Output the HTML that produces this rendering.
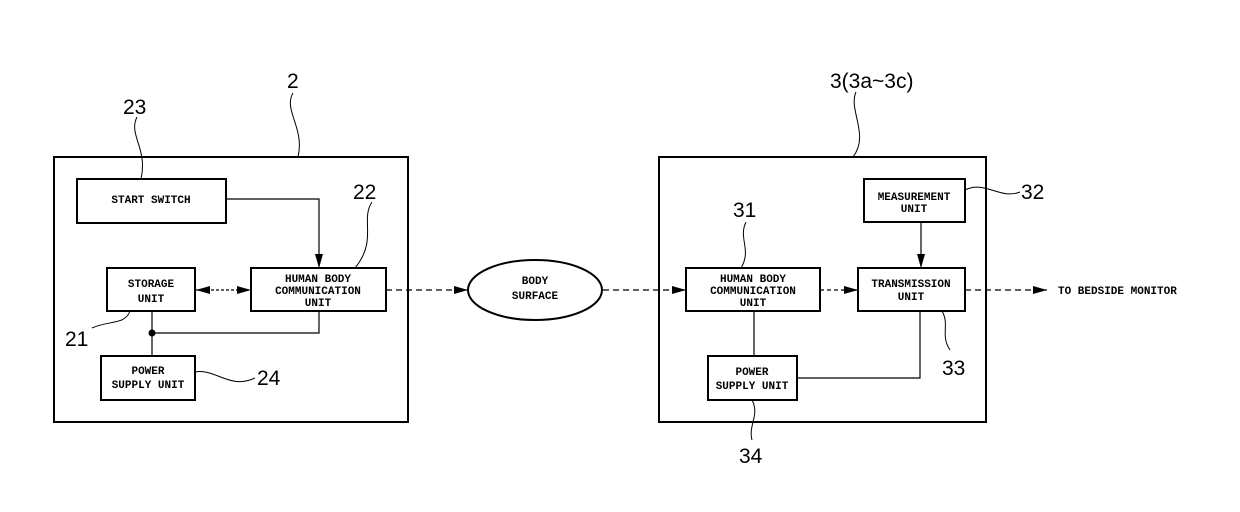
<!DOCTYPE html>
<html><head><meta charset="utf-8"><style>
html,body{margin:0;padding:0;background:#fff}
svg{display:block}
.n{font-family:"Liberation Sans",sans-serif;font-size:21px;fill:#000}
.b{font-family:"Liberation Mono",monospace;font-size:11px;font-weight:bold;fill:#000;text-anchor:middle}
</style></head><body>
<svg width="1240" height="512" viewBox="0 0 1240 512" xmlns="http://www.w3.org/2000/svg">
<defs><marker id="a" markerWidth="14" markerHeight="8" refX="14" refY="4" orient="auto" markerUnits="userSpaceOnUse"><path d="M0,0 L14,4 L0,8 z" fill="#000"/></marker>
<marker id="s" markerWidth="14" markerHeight="8" refX="0" refY="4" orient="auto" markerUnits="userSpaceOnUse"><path d="M14,0 L0,4 L14,8 z" fill="#000"/></marker></defs>
<g fill="none" stroke="#000">
<rect x="54" y="157" width="354" height="265" stroke-width="2"/>
<rect x="77" y="179" width="149" height="44" stroke-width="2"/>
<rect x="107" y="268" width="88" height="43" stroke-width="2"/>
<rect x="251" y="268" width="135" height="43" stroke-width="2"/>
<rect x="101" y="356" width="94" height="44" stroke-width="2"/>
<path d="M226,199 H319 V268" stroke-width="1.2" marker-end="url(#a)"/>
<path d="M196,290 H251" stroke-width="1.2" stroke-dasharray="3,2" marker-start="url(#s)" marker-end="url(#a)"/>
<path d="M152,311 V356 M152,333 H319 V311" stroke-width="1.2"/>
<rect x="659" y="157" width="327" height="265" stroke-width="2"/>
<rect x="864" y="179" width="101" height="43" stroke-width="2"/>
<rect x="686" y="268" width="134" height="43" stroke-width="2"/>
<rect x="858" y="268" width="107" height="43" stroke-width="2"/>
<rect x="708" y="356" width="89" height="44" stroke-width="2"/>
<path d="M921,222 V268" stroke-width="1.2" marker-end="url(#a)"/>
<path d="M820,290 H858" stroke-width="1.2" stroke-dasharray="4,3" marker-end="url(#a)"/>
<path d="M754,311 V356 M920,311 V378 H797" stroke-width="1.2"/>
<ellipse cx="535" cy="290" rx="67" ry="30" stroke-width="2"/>
<path d="M386,290 H468" stroke-width="1.2" stroke-dasharray="6,4" marker-end="url(#a)"/>
<path d="M603,290 H686" stroke-width="1.2" stroke-dasharray="6,4" marker-end="url(#a)"/>
<path d="M965,290 H1047" stroke-width="1.2" stroke-dasharray="6,4" marker-end="url(#a)"/>
<g stroke-width="1">
<path d="M137,117 C128,135 148,148 141,179"/>
<path d="M293,93 C283,110 305,128 298,157"/>
<path d="M372,202 C360,220 378,240 355,268"/>
<path d="M130,311 C125,325 110,320 92,328"/>
<path d="M195,372 C215,368 230,390 255,378"/>
<path d="M856,92 C848,110 870,135 853,157"/>
<path d="M746,222 C738,238 752,250 741,268"/>
<path d="M965,190 C985,180 1000,200 1020,192"/>
<path d="M942,311 C950,325 940,335 950,350"/>
<path d="M752,400 C760,415 748,425 752,440"/>
</g>
</g>
<circle cx="152" cy="333" r="3.5" fill="#000"/>
<g class="n">
<text x="123" y="114">23</text>
<text x="287" y="88">2</text>
<text x="353" y="199">22</text>
<text x="65" y="346">21</text>
<text x="257" y="385">24</text>
<text x="830" y="88">3(3a~3c)</text>
<text x="733" y="217">31</text>
<text x="1021" y="199">32</text>
<text x="942" y="375">33</text>
<text x="739" y="463">34</text>
</g>
<g class="b">
<text x="151" y="203">START SWITCH</text>
<text x="151" y="287">STORAGE</text>
<text x="151" y="302">UNIT</text>
<text x="318" y="282">HUMAN BODY</text>
<text x="318" y="294">COMMUNICATION</text>
<text x="318" y="306">UNIT</text>
<text x="148" y="374">POWER</text>
<text x="148" y="388">SUPPLY UNIT</text>
<text x="535" y="284">BODY</text>
<text x="535" y="299">SURFACE</text>
<text x="914" y="200">MEASUREMENT</text>
<text x="914" y="212">UNIT</text>
<text x="753" y="282">HUMAN BODY</text>
<text x="753" y="294">COMMUNICATION</text>
<text x="753" y="306">UNIT</text>
<text x="911" y="287">TRANSMISSION</text>
<text x="911" y="300">UNIT</text>
<text x="752" y="375">POWER</text>
<text x="752" y="389">SUPPLY UNIT</text>
<text x="1058" y="294" style="text-anchor:start">TO BEDSIDE MONITOR</text>
</g>
</svg>
</body></html>
